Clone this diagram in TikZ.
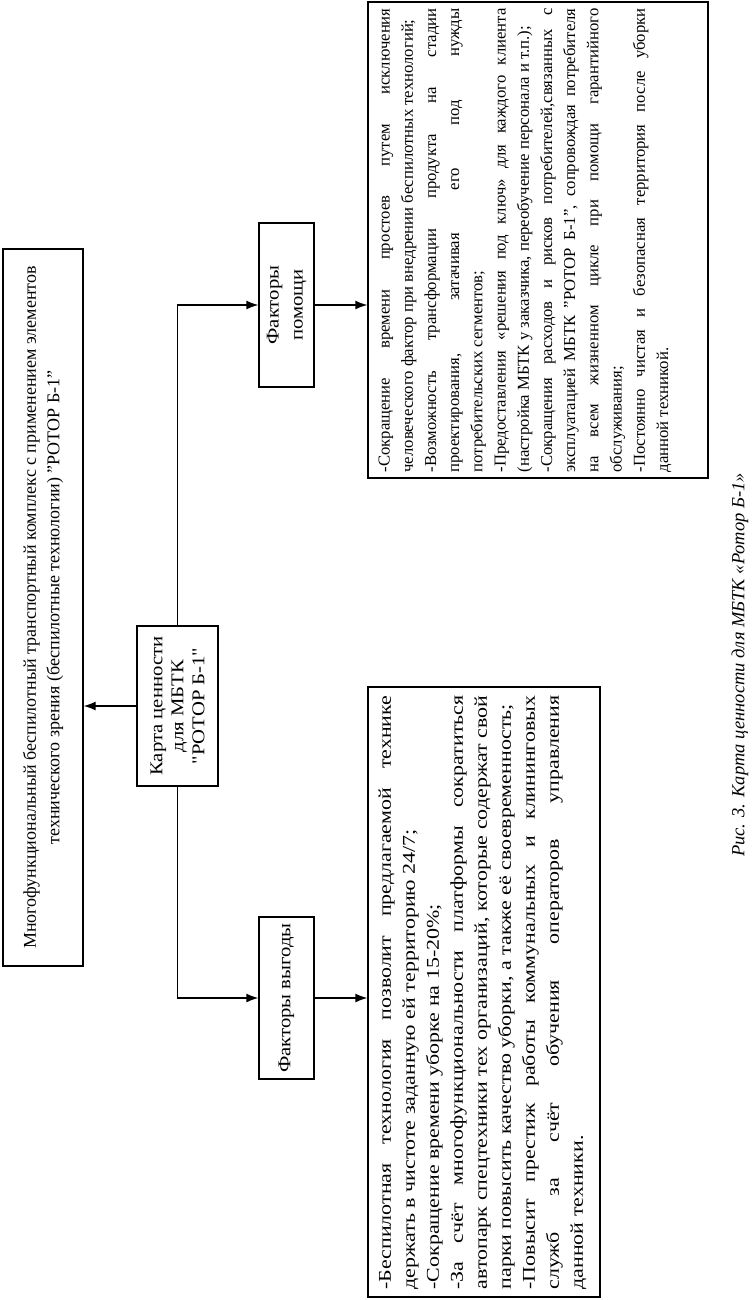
\documentclass[tikz,border=0pt]{standalone}
\usepackage{fontspec}
\setmainfont{Liberation Serif}
\newfontfamily\wideA[FakeStretch=1.15]{Liberation Serif}
\newfontfamily\wideB[FakeStretch=1.22]{Liberation Serif}
\usetikzlibrary{arrows.meta}
\setlength{\parindent}{0pt}
\newlength\rtw \setlength\rtw{464pt}
\newlength\ltw \setlength\ltw{594pt}
\newcommand\JR[1]{\makebox[\rtw][s]{#1}}
\newcommand\LR[1]{\makebox[\rtw][l]{#1}}
\newcommand\JL[1]{\makebox[\ltw][s]{#1}}
\newcommand\LL[1]{\makebox[\ltw][l]{#1}}
\begin{document}
\begin{tikzpicture}[x=1pt,y=1pt,
  box/.style={draw,line width=1.3pt,rotate=90,inner sep=0pt},
  arr/.style={line width=1.3pt,-{Latex[length=12pt,width=9pt]}},
  bodytext/.style={rotate=90,anchor=north west,inner sep=0pt,align=left}]
\useasboundingbox (0,0) rectangle (753,-1300);
\fill[white] (0,0) rectangle (753,-1300);

% title box
\node[box, minimum width=717pt, minimum height=80pt, align=center,
  font=\fontsize{18}{23.5}\selectfont] (title) at (43,-607.5)
  {Многофункциональный беспилотный транспортный комплекс с применением элементов\\
   технического зрения (беспилотные технологии) "РОТОР Б-1"};

% central box
\node[box, minimum width=160pt, minimum height=81pt, align=center,
  font=\fontsize{18}{21}\wideA] (cen) at (177.5,-706)
  {Карта ценности\\ для МБТК\\ "РОТОР Б-1"};

% factor boxes
\node[box, minimum width=164pt, minimum height=55pt, align=center,
  font=\fontsize{18}{24}\wideA] (pom) at (286.5,-305)
  {Факторы\\ помощи};
\node[box, minimum width=162pt, minimum height=55pt, align=center,
  font=\fontsize{18}{24}\wideA] (vyg) at (286.5,-998)
  {Факторы выгоды};

% big boxes
\node[box, minimum width=476pt, minimum height=340pt] (rbox) at (538,-240) {};
\node[box, minimum width=610pt, minimum height=232pt] (lbox) at (484,-992) {};

\node[bodytext, font=\fontsize{16.7}{23.2}\selectfont] (rtext)
  at ([shift={(11,6)}]rbox.north west) {%
\JR{-Сокращение времени простоев путем исключения}\\
\LR{человеческого фактор при внедрении беспилотных технологий;}\\
\JR{-Возможность трансформации продукта на стадии}\\
\JR{проектирования, затачивая его под нужды}\\
\LR{потребительских сегментов;}\\
\JR{-Предоставления «решения под ключ» для каждого клиента}\\
\LR{(настройка МБТК у заказчика, переобучение персонала и т.п.);}\\
\JR{-Сокращения расходов и рисков потребителей,связанных с}\\
\JR{эксплуатацией МБТК "РОТОР Б-1", сопровождая потребителя}\\
\JR{на всем жизненном цикле при помощи гарантийного}\\
\LR{обслуживания;}\\
\JR{-Постоянно чистая и безопасная территория после уборки}\\
\LR{данной техникой.}};

\node[bodytext, font=\fontsize{18}{24}\wideB] (ltext)
  at ([shift={(11,8)}]lbox.north west) {%
\JL{-Беспилотная технология позволит предлагаемой технике}\\
\LL{держать в чистоте заданную ей территорию 24/7;}\\
\LL{-Сокращение времени уборке на 15-20\%;}\\
\JL{-За счёт многофункциональности платформы сократиться}\\
\JL{автопарк спецтехники тех организаций, которые содержат свой}\\
\LL{парки повысить качество уборки, а также её своевременность;}\\
\JL{-Повысит престиж работы коммунальных и клининговых}\\
\JL{служб за счёт обучения операторов управления}\\
\LL{данной техники.}};

% caption
\node[rotate=90, font=\fontsize{18.5}{20}\selectfont\itshape] (cap) at (740,-665)
  {Рис. 3. Карта ценности для МБТК «Ротор Б-1»};

% connectors
\draw[arr] (cen.north) -- (cen.north -| title.south);
\draw[arr] (cen.east) |- (pom.north);
\draw[arr] (cen.west) |- (vyg.north);
\draw[arr] (pom.south) -- (pom.south -| rbox.north);
\draw[arr] (vyg.south) -- (vyg.south -| lbox.north);
\end{tikzpicture}
\end{document}
